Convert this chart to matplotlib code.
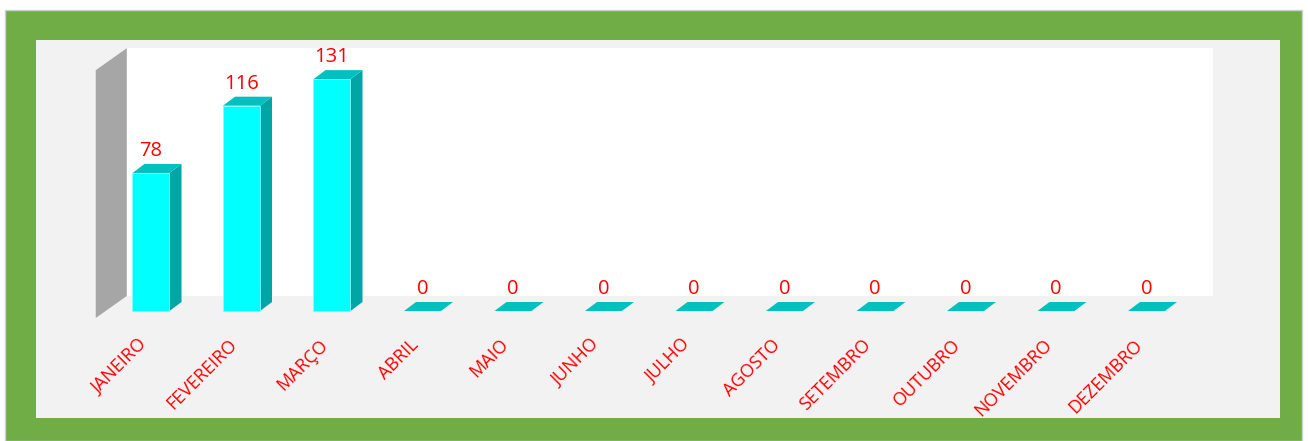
import matplotlib
matplotlib.use("Agg")
import matplotlib.pyplot as plt
from matplotlib.patches import Polygon, Rectangle

categories = ["JANEIRO", "FEVEREIRO", "MARÇO", "ABRIL", "MAIO", "JUNHO",
              "JULHO", "AGOSTO", "SETEMBRO", "OUTUBRO", "NOVEMBRO", "DEZEMBRO"]
values = [78, 116, 131, 0, 0, 0, 0, 0, 0, 0, 0, 0]
axis_max = 140

W, H = 1308, 441
fig = plt.figure(figsize=(W / 100, H / 100), dpi=100)
fig.patch.set_facecolor("white")

def fr(x0, y0, x1, y1, **kw):
    # rectangle in pixel coords (top-left origin) drawn on the figure
    fig.patches.append(Rectangle((x0 / W, 1 - y1 / H), (x1 - x0) / W, (y1 - y0) / H,
                                 transform=fig.transFigure, figure=fig, zorder=-10, **kw))

fr(5, 10, 1302, 441, facecolor="#70AD47", edgecolor="#D0D0D0", linewidth=1)
fr(36, 40, 1280, 418, facecolor="#F2F2F2", edgecolor="none")

# mapping constants
X0, DXPX = 151, 90.5
Y0, SY = 311, 1.77
ax = fig.add_axes([0, 0, 1, 1])
ax.set_zorder(5)
ax.set_xlim((0 - X0) / DXPX, (W - X0) / DXPX)
ax.set_ylim(-(H - Y0) / SY, Y0 / SY)
ax.axis("off")
ax.patch.set_visible(False)

bw = 37 / DXPX
ddx, ddy = 12 / DXPX, 9 / SY          # bar depth
bx, by = 21 / DXPX, 15 / SY           # back wall offset
fx, fy = -10 / DXPX, -7 / SY          # floor front offset
n = len(categories)
left, right = -0.5, n - 0.5

# back wall
ax.add_patch(Polygon([(left + bx, by), (right + bx, by), (right + bx, axis_max + by),
                      (left + bx, axis_max + by)], closed=True, facecolor="white",
                     edgecolor="none", zorder=1))
# side wall
ax.add_patch(Polygon([(left + fx, fy), (left + fx, axis_max + fy),
                      (left + bx, axis_max + by), (left + bx, by)], closed=True,
                     facecolor="#A6A6A6", edgecolor="none", zorder=2))

font = ["Open Sans", "DejaVu Sans"]
for i, (c, v) in enumerate(zip(categories, values)):
    l, r = i - bw / 2, i + bw / 2
    if v > 0:
        ax.add_patch(Polygon([(l, 0), (r, 0), (r, v), (l, v)], closed=True,
                             facecolor="#00FFFF", edgecolor="#7FFFFF", linewidth=0.6, zorder=4))
        ax.add_patch(Polygon([(r, 0), (r + ddx, ddy), (r + ddx, v + ddy), (r, v)], closed=True,
                             facecolor="#00A6A6", edgecolor="none", zorder=3))
    ax.add_patch(Polygon([(l, v), (r, v), (r + ddx, v + ddy), (l + ddx, v + ddy)], closed=True,
                         facecolor="#00C0C0", edgecolor="none", zorder=5))
    ax.annotate(str(v), (i, v + ddy), xytext=(0, 2), textcoords="offset points",
                ha="center", va="bottom", color="red", fontsize=14.5, family=font, zorder=6)
    ax.text(i - 0.08, -31 / SY, c, rotation=45, rotation_mode="anchor", ha="right",
            va="center", color="red", fontsize=13, family=font, zorder=6)

fig.savefig("out.png", dpi=100)
